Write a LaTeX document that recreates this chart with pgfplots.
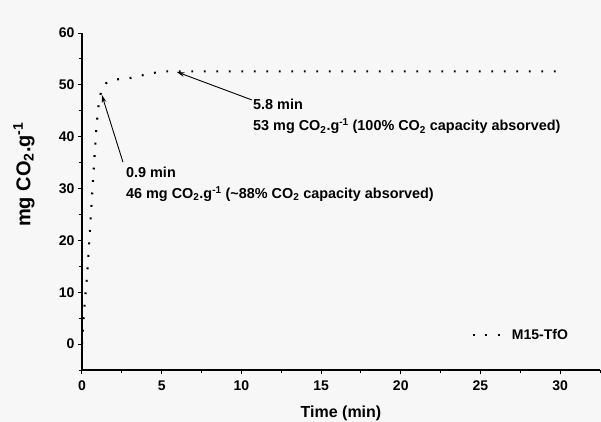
\documentclass[border=0pt]{standalone}
\usepackage{pgfplots}
\pgfplotsset{compat=1.18}
\usepackage{fontspec}
\setmainfont{Liberation Sans}
\usetikzlibrary{arrows.meta}

\pgfplotstableread{
t q
0    0
0.1  5
0.2  9
0.3  12.5
0.4  17
0.5  22
0.6  27
0.7  32
0.8  37
0.9  41.5
1.0  45
1.1  47.5
1.25 49.2
1.5  50.3
2.0  51.0
3.0  51.3
4.0  52.0
5.0  52.6
5.8  52.6
8    52.6
12   52.6
16   52.6
20   52.6
24   52.6
28   52.6
30   52.6
}\uptake

\begin{document}
\begin{tikzpicture}[x=1pt,y=1pt]
\fill[black!3] (-82,-52) rectangle (519,370);
\useasboundingbox (-82,-52) rectangle (519,370);
\begin{axis}[
  at={(0,0)}, anchor=south west,
  scale only axis, width=518pt, height=337pt,
  xmin=0, xmax=32.5, ymin=-5, ymax=60,
  axis x line=bottom, axis y line=left,
  axis line style={-, line width=1.1pt},
  tick align=outside,
  xtick={0,5,...,30}, ytick={0,10,...,60},
  minor xtick={2.5,7.5,...,32.5}, minor ytick={-5,5,...,55},
  major tick length=4pt, minor tick length=3pt,
  every tick/.style={black, line width=1pt},
  /pgf/number format/assume math mode=true,
  tick label style={font=\bfseries\fontsize{14}{14}\selectfont},
  xticklabel style={yshift=-3pt},
  xlabel={Time (min)},
  ylabel={mg CO\textsubscript{2}.g\textsuperscript{-1}},
  xlabel style={font=\bfseries\fontsize{16}{16}\selectfont, yshift=-9pt},
  ylabel style={font=\bfseries\fontsize{20}{20}\selectfont,
    at={(axis description cs:-0.112,0.58)}, anchor=center},
  legend style={draw=none, fill=none, at={(axis cs:24.26,1.7)}, anchor=west,
    font=\bfseries\fontsize{14}{14}\selectfont},
  legend cell align=left,
  legend image code/.code={
    \draw[#1] (0pt,0pt) -- (28pt,0pt);
    \path (0pt,0pt) -- (36pt,0pt);},
]
\addplot[black, line width=2.1pt, dash pattern=on 1.9pt off 10.6pt] table[x=t,y=q] {\uptake};
\addlegendentry{M15-TfO}

\draw[-{Stealth[length=8pt,width=4.5pt]}, line width=0.9pt] (axis cs:2.57,35.1) -- (axis cs:1.24,48.1);
\draw[-{Stealth[length=8pt,width=4.5pt]}, line width=0.9pt] (axis cs:10.65,47.1) -- (axis cs:5.94,52.5);

\begin{scope}[every node/.style={anchor=west, inner sep=0pt, font=\bfseries\fontsize{14.4}{14.4}\selectfont}]
\node at (axis cs:2.76,33.1) {0.9 min};
\node at (axis cs:2.76,28.9) {46 mg CO\textsubscript{2}.g\textsuperscript{-1} (\textasciitilde88\% CO\textsubscript{2} capacity absorved)};
\node at (axis cs:10.73,46.3) {5.8 min};
\node at (axis cs:10.73,42.0) {53 mg CO\textsubscript{2}.g\textsuperscript{-1} (100\% CO\textsubscript{2} capacity absorved)};
\end{scope}
\end{axis}
\end{tikzpicture}
\end{document}
